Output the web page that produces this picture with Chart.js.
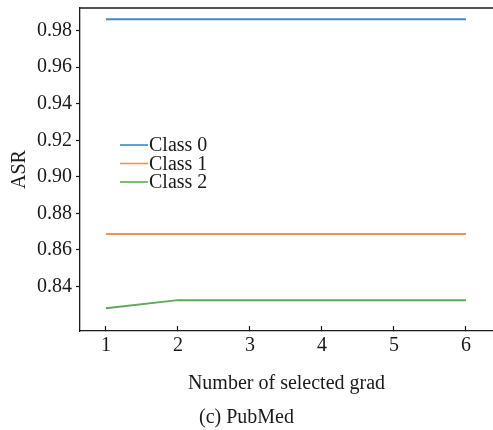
<!DOCTYPE html>
<html>
<head>
<meta charset="utf-8">
<script src="https://cdn.jsdelivr.net/npm/chart.js@4/dist/chart.umd.min.js"></script>
<style>
  html, body { margin: 0; padding: 0; background: #fff; overflow: hidden; }
  #wrap { width: 493px; height: 430px; }
</style>
</head>
<body>
<div id="wrap"><canvas id="asr-chart" width="493" height="430"></canvas></div>
<script>
const gradCounts = [1, 2, 3, 4, 5, 6];
const seriesNames = ['Class 0', 'Class 1', 'Class 2'];
const class0 = [0.9862, 0.9862, 0.9862, 0.9862, 0.9862, 0.9862];
const class1 = [0.8687, 0.8687, 0.8687, 0.8687, 0.8687, 0.8687];
const class2 = [0.8280, 0.8325, 0.8325, 0.8325, 0.8325, 0.8325];
const yTicks = [0.84, 0.86, 0.88, 0.90, 0.92, 0.94, 0.96, 0.98];
const xTicks = [1, 2, 3, 4, 5, 6];
const seriesColors = ['#3d8bcb', '#f4914a', '#5fa95a'];

const serif = '"Liberation Serif", "DejaVu Serif", serif';
const ink = '#1a1a1a';
const fontSize = 20;

const toPoints = vals => vals.map((v, i) => ({ x: gradCounts[i], y: v }));

// top spine + legend drawn inside the plot area
const frameAndLegend = {
    id: 'frameAndLegend',
    afterDraw(chart) {
        const { ctx, chartArea } = chart;
        ctx.save();
        ctx.strokeStyle = ink;
        ctx.lineWidth = 1.3;
        ctx.beginPath();
        ctx.moveTo(chartArea.left, chartArea.top);
        ctx.lineTo(chartArea.right, chartArea.top);
        ctx.stroke();

        ctx.font = fontSize + 'px ' + serif;
        ctx.textBaseline = 'middle';
        ctx.textAlign = 'left';
        chart.data.datasets.forEach((ds, i) => {
            const y = chartArea.top + 137 + i * 18.5;
            const x0 = chartArea.left + 40;
            ctx.strokeStyle = ds.borderColor;
            ctx.lineWidth = 1.6;
            ctx.beginPath();
            ctx.moveTo(x0, y);
            ctx.lineTo(x0 + 28, y);
            ctx.stroke();
            ctx.fillStyle = ink;
            ctx.fillText(ds.label, x0 + 29, y + 1);
        });
        ctx.restore();
    }
};

const ctx = document.getElementById('asr-chart').getContext('2d');
new Chart(ctx, {
    type: 'line',
    data: {
        datasets: [class0, class1, class2].map((vals, i) => ({
            label: seriesNames[i],
            data: toPoints(vals),
            borderColor: seriesColors[i],
            backgroundColor: seriesColors[i],
            borderWidth: 2,
            pointRadius: 0,
            tension: 0,
            fill: false
        }))
    },
    options: {
        responsive: false,
        animation: false,
        layout: { padding: { top: 8, right: 0, left: 0, bottom: 0 } },
        plugins: {
            legend: { display: false },
            tooltip: { enabled: false },
            title: {
                display: true,
                position: 'bottom',
                text: '(c) PubMed',
                color: ink,
                font: { family: serif, size: fontSize, weight: 'normal' },
                padding: { top: 5, bottom: 0 }
            }
        },
        scales: {
            x: {
                type: 'linear',
                min: 0.64,
                max: 6.375,
                afterFit: s => { s.height = 70; s.paddingLeft = 0; s.paddingRight = 0; },
                afterBuildTicks: s => { s.ticks = xTicks.map(v => ({ value: v })); },
                border: { color: ink, width: 1.3 },
                grid: { drawOnChartArea: false, tickLength: -5, color: ink, tickWidth: 1.2 },
                ticks: {
                    padding: 8,
                    color: ink,
                    font: { family: serif, size: fontSize },
                    callback: v => String(v)
                },
                title: {
                    display: true,
                    text: 'Number of selected grad',
                    color: ink,
                    font: { family: serif, size: fontSize },
                    padding: { top: 0, bottom: 5 }
                }
            },
            y: {
                min: 0.8156,
                max: 0.9924,
                afterFit: s => { s.width = 80; s.paddingTop = 0; s.paddingBottom = 0; },
                afterBuildTicks: s => { s.ticks = yTicks.map(v => ({ value: v })); },
                border: { color: ink, width: 1.3 },
                grid: { drawOnChartArea: false, tickLength: 4, color: ink, tickWidth: 1.2 },
                ticks: {
                    padding: 4,
                    color: ink,
                    font: { family: serif, size: fontSize },
                    callback: v => v.toFixed(2)
                },
                title: {
                    display: true,
                    text: 'ASR',
                    color: ink,
                    font: { family: serif, size: fontSize },
                    padding: { top: 8, bottom: 0 }
                }
            }
        }
    },
    plugins: [frameAndLegend]
});
</script>
</body>
</html>
